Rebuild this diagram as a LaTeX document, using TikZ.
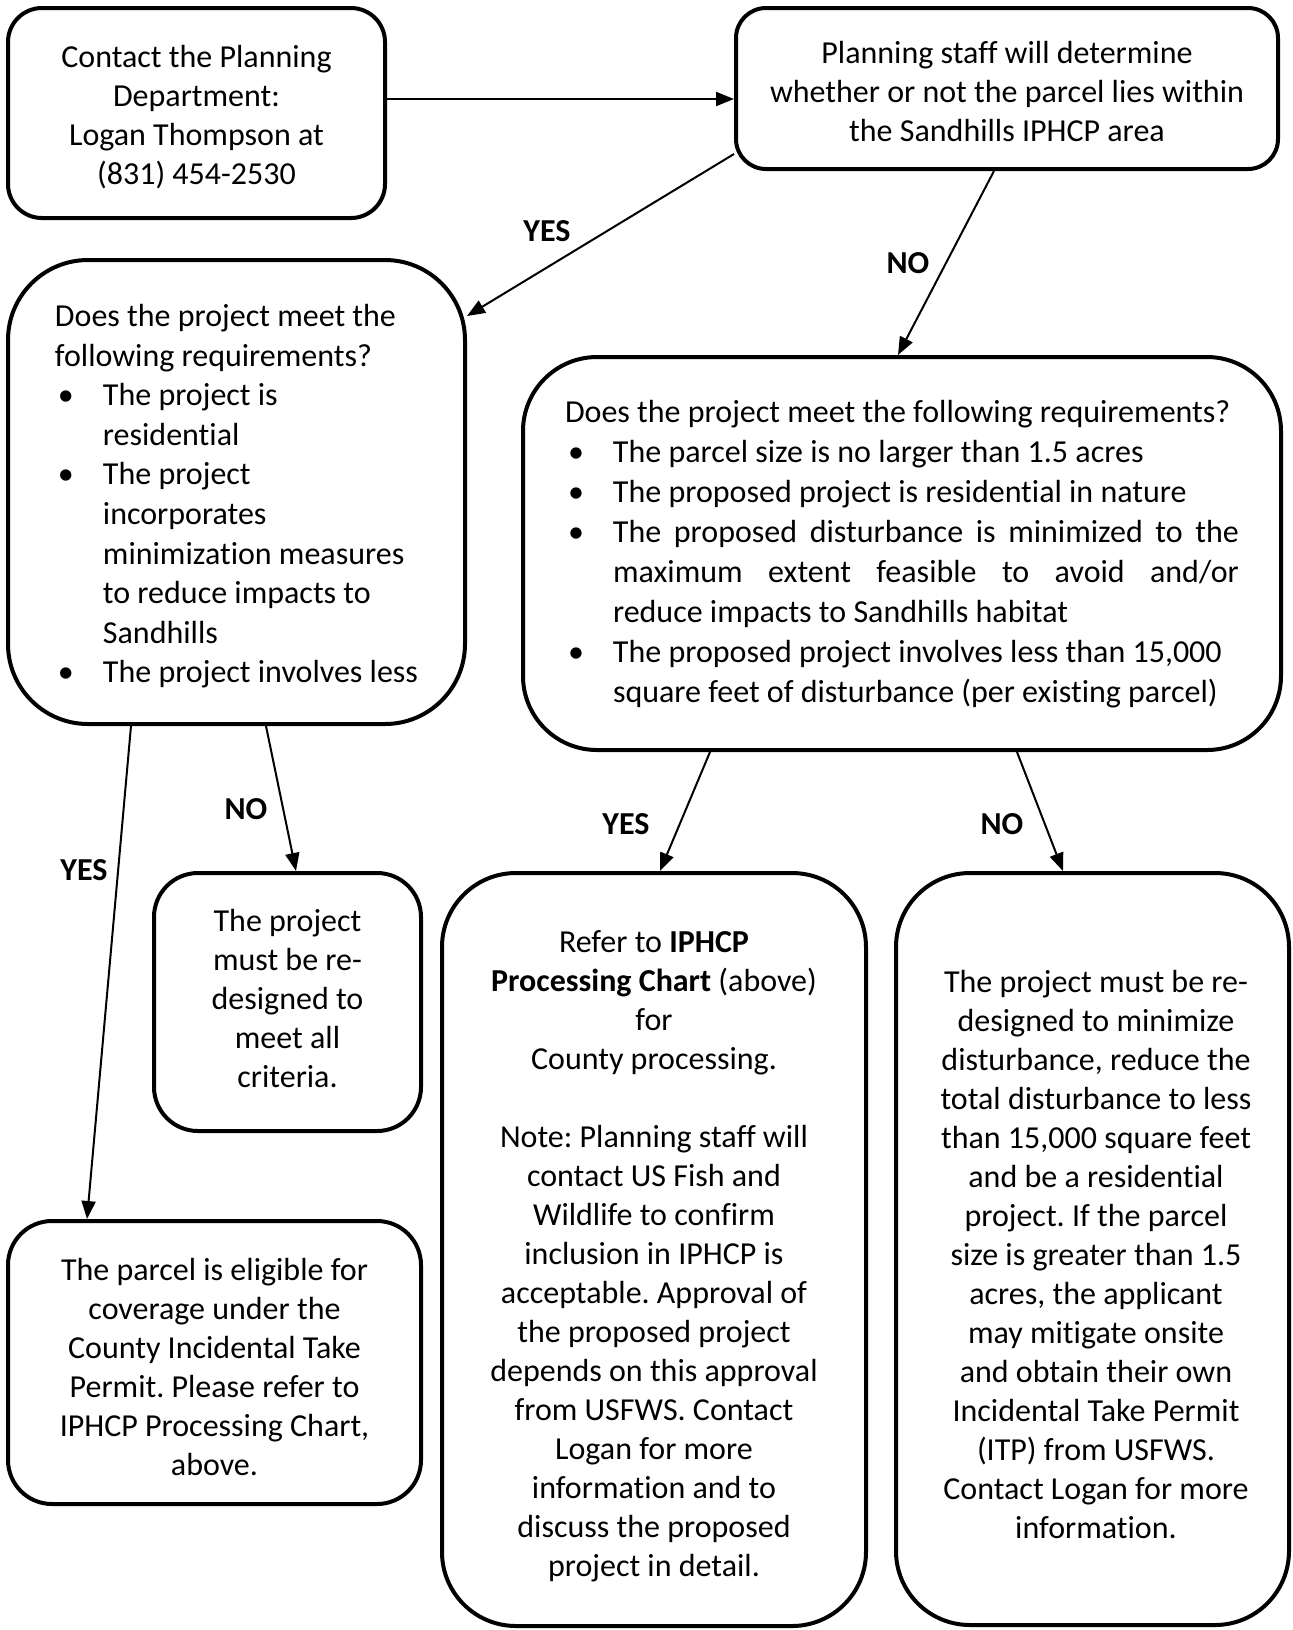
\documentclass[tikz,border=0pt]{standalone}
\usepackage{fontspec}
\setmainfont{Carlito}[Ligatures={NoCommon}]
\usetikzlibrary{arrows.meta,calc}
\frenchspacing
\newcommand\myfs{\fontsize{16}{19.5}\selectfont\frenchspacing}
\newcommand\bfirst[1]{\makebox[24pt][l]{\hspace{1.5pt}\textbullet}#1}
\newcommand\bcont[1]{\hspace*{24pt}#1}
\newcommand\tb[3]{\raisebox{#1}[\height][\depth]{\begin{tabular}{@{}#2@{}}#3\end{tabular}}}
\tikzset{
  box/.style={draw, line width=2pt, rounded corners=#1, inner sep=0pt, font=\myfs},
  box/.default=20pt,
  arr/.style={line width=1pt, -{Triangle[length=9pt,width=7pt]}},
  lab/.style={font=\myfs\bfseries, inner sep=0pt},
}
\begin{document}
\begin{tikzpicture}[x=0.5pt,y=-0.5pt]
\useasboundingbox (0,0) rectangle (1293,1630);

\node[box=17pt, minimum width=188.5pt, minimum height=105pt] (box1) at (196.5,113)
  {\tb{-2.4pt}{c}{Contact the Planning\\Department:\\Logan Thompson at\\(831) 454-2530}};

\node[box=15pt, minimum width=271pt, minimum height=80.5pt] (box2) at (1007,88.5)
  {\tb{-3.1pt}{c}{Planning staff will determine\\whether or not the parcel lies within\\the Sandhills IPHCP area}};

\node[box=40pt, minimum width=228.5pt, minimum height=232pt,
      font=\fontsize{16}{19.8}\selectfont\frenchspacing] (box3) at (236.5,492)
  {\tb{-2.4pt}{l}{Does the project meet the\\following requirements?\\
   \bfirst{The project is}\\
   \bcont{residential}\\
   \bfirst{The project}\\
   \bcont{incorporates}\\
   \bcont{minimization measures}\\
   \bcont{to reduce impacts to}\\
   \bcont{Sandhills}\\
   \bfirst{The project involves less}}};

\node[box=37pt, minimum width=379pt, minimum height=196.5pt,
      font=\fontsize{16}{20}\selectfont\frenchspacing] (box4) at (902,553.5)
  {\tb{-0.3pt}{l}{Does the project meet the following requirements?\\
   \bfirst{The parcel size is no larger than 1.5 acres}\\
   \bfirst{The proposed project is residential in nature}\\
   \bfirst{\makebox[313pt][s]{The proposed disturbance is minimized to the}}\\
   \bcont{\makebox[313pt][s]{maximum extent feasible to avoid and/or}}\\
   \bcont{reduce impacts to Sandhills habitat}\\
   \bfirst{The proposed project involves less than 15,000}\\
   \bcont{square feet of disturbance (per existing parcel)}}};

\node[box=22pt, minimum width=133.5pt, minimum height=129pt] (box5) at (287.5,1002)
  {\tb{0pt}{c}{The project\\must be re-\\designed to\\meet all\\criteria.}};

\node[box=22pt, minimum width=206.5pt, minimum height=141.5pt] (box6) at (214.5,1362.5)
  {\tb{-3.9pt}{c}{The parcel is eligible for\\coverage under the\\County Incidental Take\\Permit. Please refer to\\IPHCP Processing Chart,\\above.}};

\node[box=37pt, minimum width=212pt, minimum height=376.5pt] (box7) at (654,1249.5)
  {\tb{-3.6pt}{c}{Refer to \textbf{IPHCP}\\\textbf{Processing Chart} (above)\\for\\County processing.\\[19.5pt]
   Note: Planning staff will\\contact US Fish and\\Wildlife to confirm\\inclusion in IPHCP is\\acceptable. Approval of\\the proposed project\\depends on this approval\\from USFWS. Contact\\Logan for more\\information and to\\discuss the proposed\\project in detail.}};

\node[box=37pt, minimum width=196.5pt, minimum height=376pt] (box8) at (1092.5,1249)
  {\hspace*{3.5pt}\tb{-4.2pt}{c}{The project must be re-\\designed to minimize\\disturbance, reduce the\\total disturbance to less\\than 15,000 square feet\\and be a residential\\project. If the parcel\\size is greater than 1.5\\acres, the applicant\\may mitigate onsite\\and obtain their own\\Incidental Take Permit\\(ITP) from USFWS.\\Contact Logan for more\\information.}};

% connectors
\draw[arr] ($(box1.east)+(0,-14)$) -- ($(box2.west)+(0,10.5)$);
\draw[arr] ($(box2.south west)+(0,-17)$) -- ($(box3.north east)+(0,58)$);
\draw[arr] ($(box2.south west)+(260,0)$) -- ($(box4.north west)+(377,0)$);
\draw[arr] ($(box3.south west)+(125,0)$) -- ($(box6.north west)+(81,0)$);
\draw[arr] ($(box3.south west)+(260,0)$) -- ($(box5.north west)+(144,0)$);
\draw[arr] ($(box4.south west)+(189,0)$) -- ($(box7.north west)+(220,0)$);
\draw[arr] ($(box4.south west)+(496,0)$) -- ($(box8.north west)+(169,0)$);

% labels
\node[lab] (l1) at (547,231) {YES};
\node[lab] (l2) at (908,263) {NO};
\node[lab] (l3) at (246,809) {NO};
\node[lab] (l4) at (84,870) {YES};
\node[lab] (l5) at (626,824) {YES};
\node[lab] (l6) at (1002,824) {NO};
\end{tikzpicture}
\end{document}
